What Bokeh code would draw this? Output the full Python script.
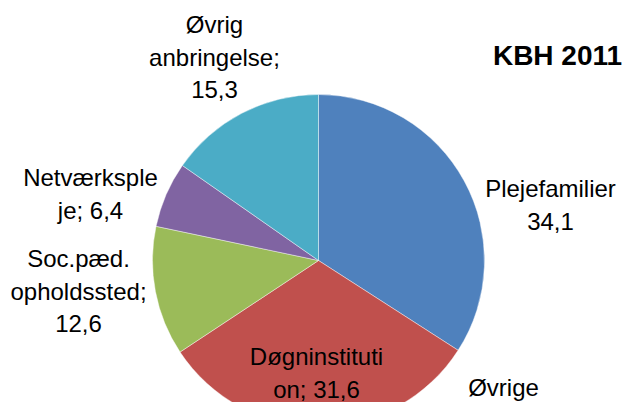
import math
from bokeh.plotting import figure
from bokeh.models import Range1d, ColumnDataSource
from bokeh.core.properties import value
from bokeh.embed import file_html
from bokeh.resources import INLINE

# ---- data ----
categories = ["Plejefamilier", "Døgninstitution", "Soc.pæd. opholdssted", "Netværkspleje", "Øvrig anbringelse"]
values = [34.1, 31.6, 12.6, 6.4, 15.3]
colors = ["#4F81BD", "#C0504D", "#9BBB59", "#8064A2", "#4BACC6"]
# label text as wrapped in the original (value appended from values)
label_heads = [["Plejefamilier"], ["Døgninstituti", "on;"], ["Soc.pæd.", "opholdssted;"], ["Netværksple", "je;"], ["Øvrig", "anbringelse;"]]
title_text = "KBH 2011"
extra_label = "Øvrige"

# ---- layout (reference pixel coordinates, origin top-left) ----
W, H = 628, 402
REF_H = 418
cx, cy_ref, R = 318, 260, 166
label_anchor = [(550, 188), (316, 356), (78, 258), (90, 177), (214, 24)]
line_step = 32.5

def fmt(v):
    return f"{v:.1f}".replace(".", ",")

p = figure(width=W, height=H, output_backend="svg", toolbar_location=None,
           x_range=Range1d(0, W), y_range=Range1d(REF_H - H, REF_H),
           min_border=0)
p.axis.visible = False
p.grid.visible = False
p.outline_line_color = None
p.background_fill_color = "white"
p.border_fill_color = "white"

total = sum(values)
starts, ends = [], []
acc = 0.0
for v in values:
    starts.append(math.pi / 2 - 2 * math.pi * acc / total)
    acc += v
    ends.append(math.pi / 2 - 2 * math.pi * acc / total)

src = ColumnDataSource(dict(x=[cx] * len(values), y=[REF_H - cy_ref] * len(values),
                            start=starts, end=ends, color=colors, cat=categories))
p.wedge(x="x", y="y", radius=R, start_angle="start", end_angle="end", direction="clock",
        fill_color="color", line_color="white", line_width=0.7, line_alpha=0.6, source=src)

# labels
tx, ty, tt = [], [], []
for heads, v, (ax, ay) in zip(label_heads, values, label_anchor):
    lines = list(heads)
    if lines[-1].endswith(";") and len(lines) > 1 and len(lines[-1]) < 6:
        lines[-1] = lines[-1] + " " + fmt(v)
    else:
        lines.append(fmt(v))
    for i, s in enumerate(lines):
        tx.append(ax)
        ty.append(REF_H - (ay + i * line_step))
        tt.append(s)

p.text(x=tx, y=ty, text=tt, text_font=value("Liberation Sans"), text_font_size="24px",
       text_align="center", text_baseline="middle", text_color="black")

p.text(x=[557], y=[REF_H - 55], text=[title_text], text_font=value("Liberation Sans"),
       text_font_size="28px", text_font_style="bold", text_align="center",
       text_baseline="middle", text_color="black")

p.text(x=[503], y=[REF_H - 400], text=[extra_label], text_font=value("Liberation Sans"),
       text_font_size="24px", text_align="center", text_baseline="bottom", text_color="black")

open("out.html", "w").write(file_html(p, INLINE))
